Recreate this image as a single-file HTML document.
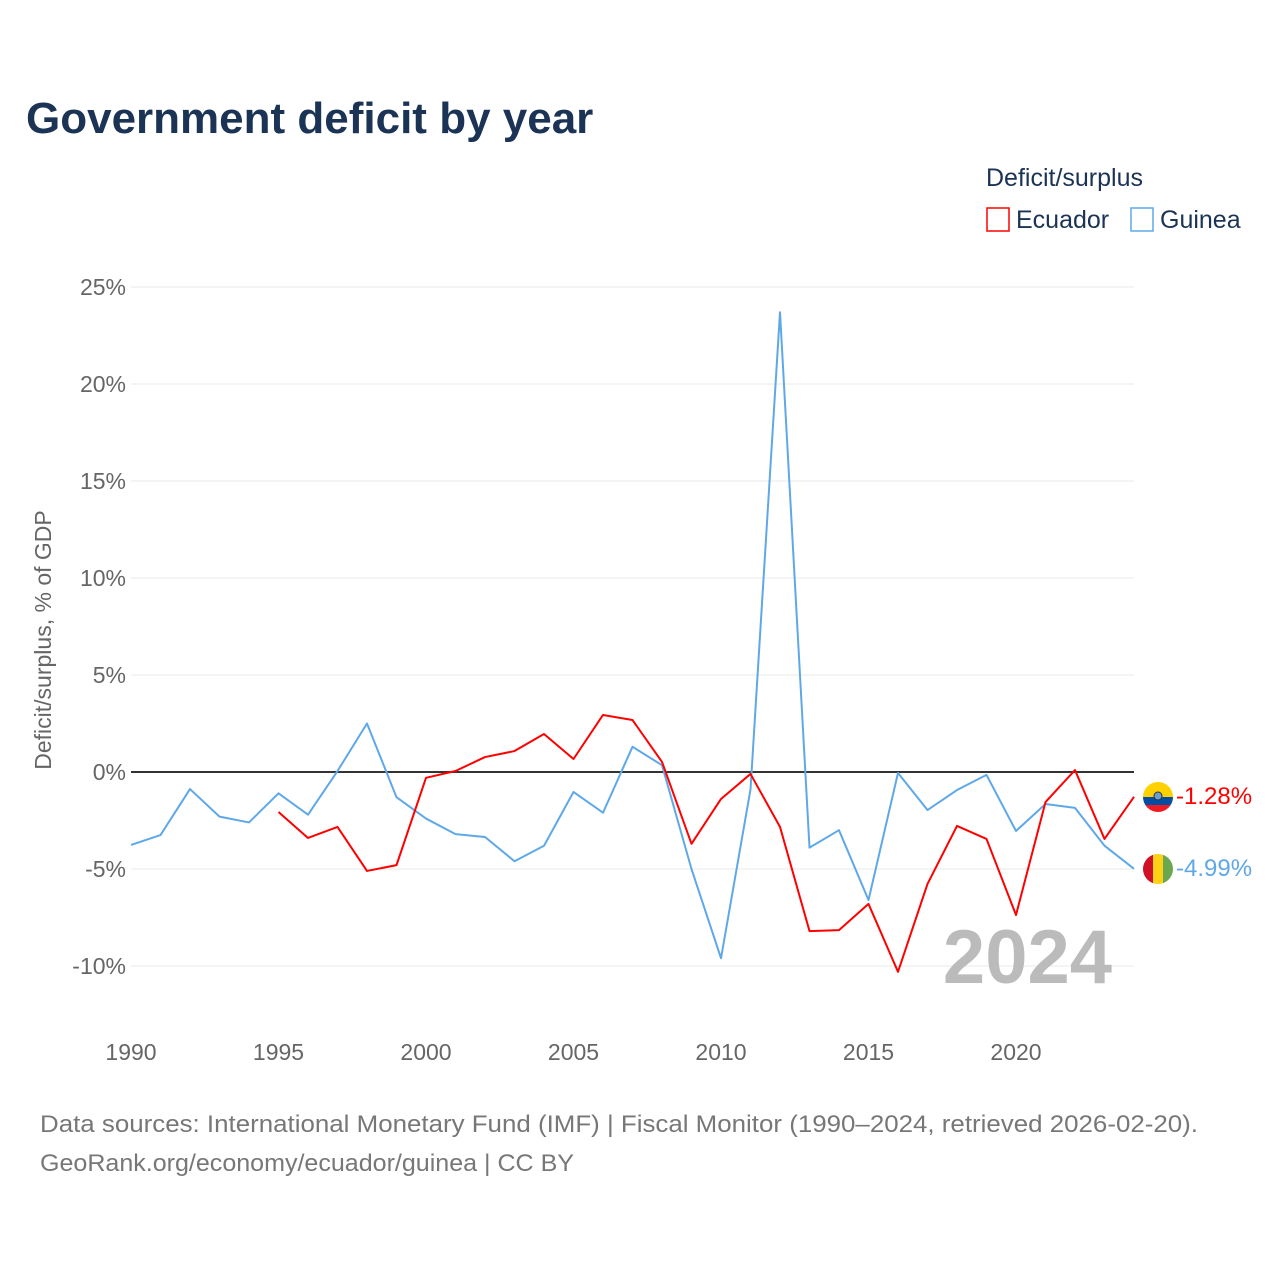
<!DOCTYPE html>
<html><head><meta charset="utf-8"><style>
body{margin:0;background:#fff;font-family:"Liberation Sans",sans-serif;}
svg text{font-family:"Liberation Sans",sans-serif;}
</style></head><body>
<svg id="chart" width="1280" height="1280" viewBox="0 0 1280 1280">
<defs>
<clipPath id="c1"><circle cx="1158" cy="797" r="15"/></clipPath>
<clipPath id="c2"><circle cx="1158" cy="869" r="15"/></clipPath>
</defs>
<text x="26" y="133" font-size="44" font-weight="bold" fill="#1b3354">Government deficit by year</text>
<text x="986" y="186" font-size="25" fill="#1b3354">Deficit/surplus</text>
<g><rect x="987" y="208" width="22" height="23" fill="none" stroke="#f00" stroke-width="1.5"/><text x="1016" y="228" font-size="25" fill="#1b3354">Ecuador</text></g>
<g><rect x="1131" y="208" width="22" height="23" fill="none" stroke="#5fa8e8" stroke-width="1.5"/><text x="1160" y="228" font-size="25" fill="#1b3354">Guinea</text></g>
<g id="grid"></g>
<text transform="translate(51,640) rotate(-90)" text-anchor="middle" font-size="23" fill="#666">Deficit/surplus, % of GDP</text>
<text x="1112" y="983" text-anchor="end" font-size="76" font-weight="bold" fill="#bbb">2024</text>
<g id="marks"></g>
<g clip-path="url(#c1)"><rect x="1143" y="782" width="30" height="15" fill="#ffd100"/><rect x="1143" y="797" width="30" height="8" fill="#034ea2"/><rect x="1143" y="805" width="30" height="8" fill="#ed1c24"/><circle cx="1158" cy="796" r="4" fill="#6a9fd4" stroke="#333" stroke-width="1"/></g>
<g clip-path="url(#c2)"><rect x="1143" y="854" width="10" height="30" fill="#ce1126"/><rect x="1153" y="854" width="10" height="30" fill="#fcd116"/><rect x="1163" y="854" width="10" height="30" fill="#6aa84f"/></g>
<text x="1176" y="804" font-size="24" fill="#f00">-1.28%</text>
<text x="1176" y="876" font-size="24" fill="#5fa8e8">-4.99%</text>
<text x="40" y="1132" font-size="24" fill="#777" textLength="1158" lengthAdjust="spacingAndGlyphs">Data sources: International Monetary Fund (IMF) | Fiscal Monitor (1990–2024, retrieved 2026-02-20).</text>
<text x="40" y="1171" font-size="24" fill="#777" textLength="534" lengthAdjust="spacingAndGlyphs">GeoRank.org/economy/ecuador/guinea | CC BY</text>
</svg>
<script>
const years=[];for(let y=1990;y<=2024;y++)years.push(y);
const guinea=[-3.76,-3.25,-0.88,-2.3,-2.6,-1.1,-2.2,0.05,2.5,-1.3,-2.4,-3.2,-3.35,-4.6,-3.8,-1.03,-2.1,1.3,0.35,-5.0,-9.6,-0.9,23.7,-3.9,-3.0,-6.6,-0.05,-1.96,-0.93,-0.15,-3.04,-1.65,-1.85,-3.8,-4.99];
const ecuadorYears=[];for(let y=1995;y<=2024;y++)ecuadorYears.push(y);
const ecuador=[-2.06,-3.4,-2.83,-5.1,-4.8,-0.3,0.05,0.77,1.08,1.96,0.67,2.94,2.68,0.52,-3.7,-1.39,-0.1,-2.83,-8.2,-8.15,-6.8,-10.3,-5.77,-2.78,-3.45,-7.37,-1.55,0.1,-3.45,-1.28];
const yTicks=[25,20,15,10,5,0,-5,-10];
const xTicks=[1990,1995,2000,2005,2010,2015,2020];
const X=y=>131+(y-1990)*(1134-131)/34;
const Y=v=>772-v*19.4;
const NS='http://www.w3.org/2000/svg';
const grid=document.getElementById('grid'),marks=document.getElementById('marks');
function mk(tag,attrs,parent){const e=document.createElementNS(NS,tag);for(const k in attrs)e.setAttribute(k,attrs[k]);parent.appendChild(e);return e;}
yTicks.forEach(t=>{
 const l=mk('line',{x1:131,x2:1134,y1:Y(t),y2:Y(t),stroke:t===0?'#333':'#e8e8e8','stroke-width':t===0?2:1},grid);
 
 
 const tx=mk('text',{x:126,y:Y(t)+8,'text-anchor':'end','font-size':23,fill:'#666'},grid);
 tx.textContent=t+'%';
 
 
});
xTicks.forEach(t=>{
 const tx=mk('text',{x:X(t),y:1060,'text-anchor':'middle','font-size':23,fill:'#666'},grid);
 tx.textContent=t;
 
 
});
function line(xs,vs,color,name){
 const p=mk('polyline',{points:xs.map((y,i)=>X(y)+','+Y(vs[i])).join(' '),fill:'none',stroke:color,'stroke-width':2,'stroke-linejoin':'round'},marks);
 
 
}
line(years,guinea,'#5fa8e8','guinea-line');
line(ecuadorYears,ecuador,'#ff0000','ecuador-line');
</script>
</body></html>
